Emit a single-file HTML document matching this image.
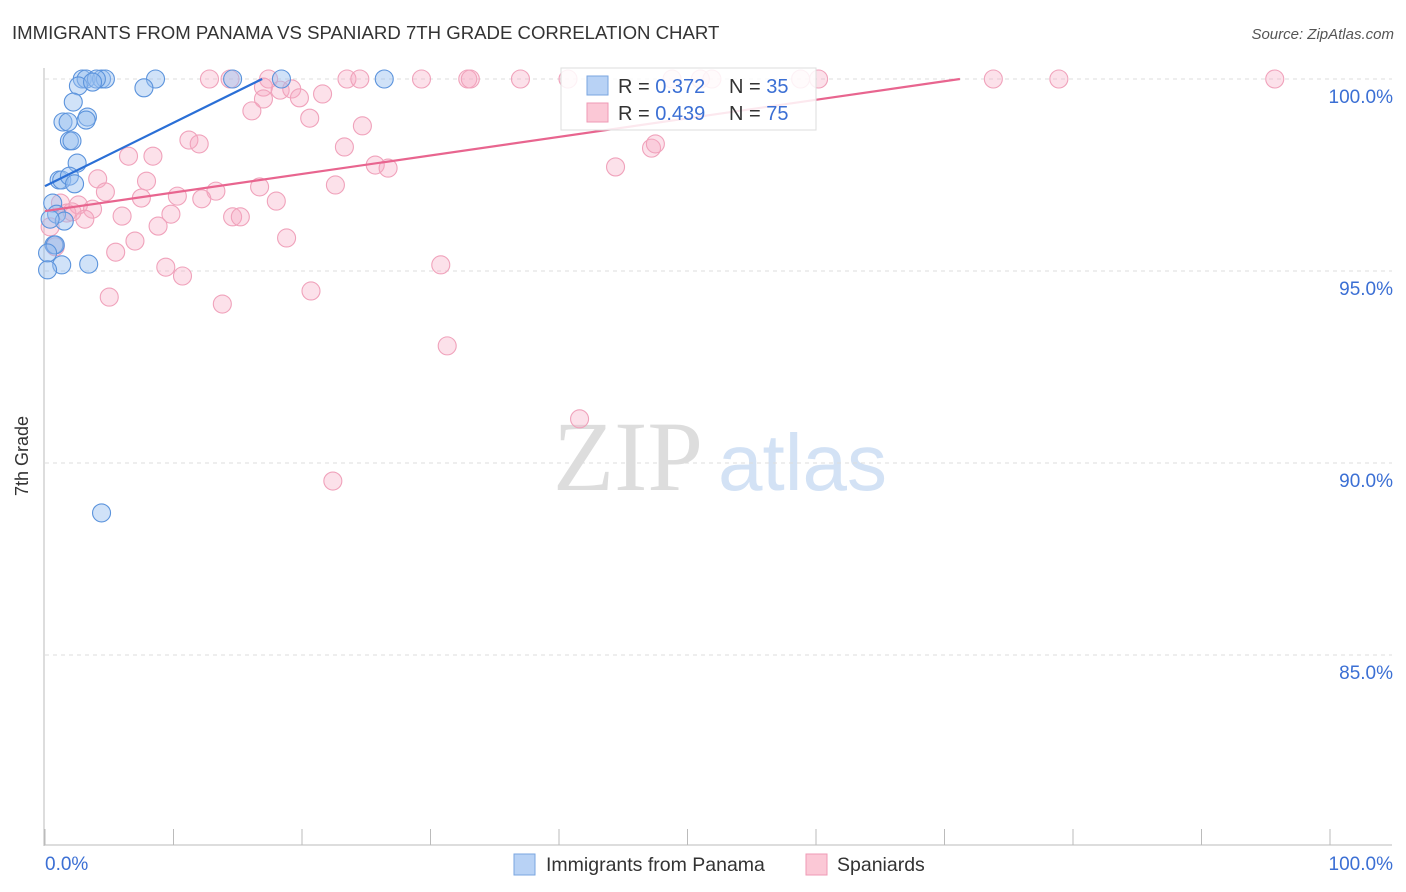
<!DOCTYPE html>
<html><head><meta charset="utf-8"><style>
body{margin:0;background:#fff;font-family:"Liberation Sans",sans-serif;}
svg{display:block}
</style></head><body>
<svg id="chart" width="1406" height="892">
<text x="12" y="39" font-size="18.6" fill="#333">IMMIGRANTS FROM PANAMA VS SPANIARD 7TH GRADE CORRELATION CHART</text>
<text x="1394" y="39" font-size="15" fill="#555" font-style="italic" text-anchor="end">Source: ZipAtlas.com</text>
<g>
<text x="553" y="490" font-size="100" fill="#ddd" font-family="Liberation Serif,serif">ZIP</text>
<text x="718" y="490" font-size="80" fill="#d3e2f5">atlas</text>
</g>
<g id="grid"></g>
<g id="axes"></g>
<g id="pts"></g>
<g id="lines"></g>
<text x="28" y="456" font-size="18" fill="#333" transform="rotate(-90 28 456)" text-anchor="middle">7th Grade</text>
<g>
<rect x="561" y="68" width="255" height="62" fill="#fff" fill-opacity="0.85" stroke="#ddd"/>
<rect x="587" y="76" width="21" height="19" fill="#b8d2f5" stroke="#7aa6e0"/>
<rect x="587" y="103" width="21" height="19" fill="#fbc8d6" stroke="#ef9ab5"/>
<text x="618" y="93" font-size="20" fill="#333">R = <tspan fill="#3b6fd4">0.372</tspan></text>
<text x="729" y="93" font-size="20" fill="#333">N = <tspan fill="#3b6fd4">35</tspan></text>
<text x="618" y="120" font-size="20" fill="#333">R = <tspan fill="#3b6fd4">0.439</tspan></text>
<text x="729" y="120" font-size="20" fill="#333">N = <tspan fill="#3b6fd4">75</tspan></text>
</g>
<g>
<rect x="514" y="854" width="21" height="21" fill="#b8d2f5" stroke="#7aa6e0"/>
<text x="546" y="871" font-size="19.5" fill="#333">Immigrants from Panama</text>
<rect x="806" y="854" width="21" height="21" fill="#fbc8d6" stroke="#ef9ab5"/>
<text x="837" y="871" font-size="19.5" fill="#333">Spaniards</text>
</g>
</svg>
<script>
const yTicks=[100,95,90,85];
const yTickLabels=["100.0%","95.0%","90.0%","85.0%"];
const xTickLabels=["0.0%","100.0%"];
const blueX=[2.9,3.2,4.4,4.7,4.0,8.6,14.6,18.4,26.4,2.6,7.7,3.7,2.2,1.4,1.8,3.3,3.2,1.9,2.1,2.5,1.1,1.3,1.9,2.3,0.6,0.9,1.5,0.4,0.7,0.8,0.2,1.3,3.4,0.2,4.4];
const blueY=[100,100,100,100,100,100,100,100,100,99.82,99.77,99.92,99.40,98.88,98.88,99.01,98.93,98.39,98.39,97.81,97.37,97.37,97.47,97.27,96.77,96.48,96.30,96.35,95.68,95.68,95.47,95.16,95.18,95.03,88.70];
const pinkX=[12.8,14.4,17.4,23.5,24.5,29.3,32.9,33.1,37.0,40.7,48.8,51.0,51.9,58.8,60.2,73.8,78.9,95.7,17.0,18.3,19.2,19.8,21.6,17.0,16.1,20.6,24.7,23.3,11.2,12.0,6.5,8.4,25.7,26.7,22.6,4.1,4.7,7.9,7.5,10.3,13.3,12.2,16.7,18.0,1.2,2.6,3.7,3.1,6.0,9.8,8.8,14.6,15.2,18.8,0.8,0.4,7.0,5.5,9.4,10.7,5.0,13.8,20.7,44.4,47.2,47.5,30.8,31.3,41.6,22.4,1.7,2.1];
const pinkY=[100,100,100,100,100,100,100,100,100,100,100,100,100,100,100,100,100,100,99.79,99.71,99.74,99.51,99.61,99.48,99.17,98.98,98.78,98.23,98.41,98.31,97.99,97.99,97.76,97.68,97.24,97.40,97.06,97.34,96.90,96.95,97.08,96.88,97.19,96.82,96.77,96.72,96.61,96.35,96.43,96.48,96.17,96.41,96.41,95.86,95.63,96.15,95.78,95.49,95.10,94.87,94.32,94.14,94.48,97.71,98.20,98.31,95.16,93.05,91.15,89.53,96.51,96.54];
const blueTrend=[[0,97.21],[16.9,100]];
const pinkTrend=[[0,96.56],[71.2,100]];
const NS="http://www.w3.org/2000/svg";
const X=v=>45+v*12.85, Y=v=>79+(100-v)*38.4;
function mk(tag,attrs,parent){const e=document.createElementNS(NS,tag);for(const k in attrs)e.setAttribute(k,attrs[k]);document.getElementById(parent).appendChild(e);return e;}
yTicks.forEach((t,i)=>{
 const l=mk('line',{x1:45,x2:1392,y1:Y(t),y2:Y(t),stroke:'#ddd','stroke-dasharray':'4,4'},'grid');
 
 
 const tx=mk('text',{x:1393,y:Y(t)+24,'font-size':19,fill:'#3b6fd4','text-anchor':'end'},'grid');
 tx.textContent=yTickLabels[i];
 
 
});
const ay=mk('line',{x1:44,x2:44,y1:68,y2:846,stroke:'#bbb'},'axes');


const ax=mk('line',{x1:44,x2:1392,y1:845,y2:845,stroke:'#bbb'},'axes');


for(let i=0;i<=10;i++){
 const t=mk('line',{x1:X(i*10),x2:X(i*10),y1:829,y2:845,stroke:'#bbb'},'axes');
 
 
}
const xl0=mk('text',{x:45,y:870,'font-size':19,fill:'#3b6fd4'},'axes');xl0.textContent=xTickLabels[0];


const xl1=mk('text',{x:1393,y:870,'font-size':19,fill:'#3b6fd4','text-anchor':'end'},'axes');xl1.textContent=xTickLabels[1];


pinkX.forEach((v,i)=>{
 const c=mk('circle',{cx:X(v),cy:Y(pinkY[i]),r:9,fill:'rgba(246,170,195,0.35)',stroke:'#f0a2bb','stroke-width':1.1},'pts');
 
 
});
blueX.forEach((v,i)=>{
 const c=mk('circle',{cx:X(v),cy:Y(blueY[i]),r:9,fill:'rgba(150,190,240,0.45)',stroke:'#5b93dc','stroke-width':1.1},'pts');
 
 
});
const bl=mk('line',{x1:X(blueTrend[0][0]),y1:Y(blueTrend[0][1]),x2:X(blueTrend[1][0]),y2:Y(blueTrend[1][1]),stroke:'#2a6fd6','stroke-width':2.2},'lines');


const pl=mk('line',{x1:X(pinkTrend[0][0]),y1:Y(pinkTrend[0][1]),x2:X(pinkTrend[1][0]),y2:Y(pinkTrend[1][1]),stroke:'#e8658f','stroke-width':2.2},'lines');


</script>
</body></html>
